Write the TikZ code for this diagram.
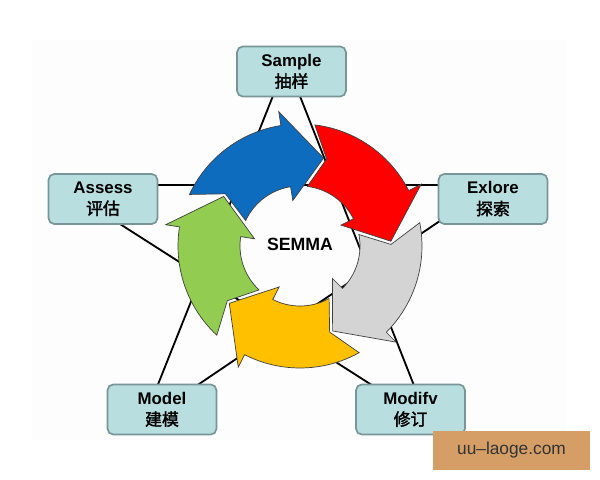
\documentclass[tikz,border=0pt]{standalone}
\usepackage{fontspec}
\setmainfont{Liberation Sans}
\newfontfamily\cjk{Noto Sans CJK SC}[AutoFakeBold=2]
\usetikzlibrary{positioning}

\definecolor{boxfill}{RGB}{184,222,224}
\definecolor{boxline}{RGB}{120,150,152}
\definecolor{arBlue}{RGB}{14,108,190}
\definecolor{arRed}{RGB}{255,0,0}
\definecolor{arGray}{RGB}{212,212,212}
\definecolor{arYellow}{RGB}{255,192,0}
\definecolor{arGreen}{RGB}{146,204,80}
\definecolor{wmfill}{RGB}{212,158,102}
\definecolor{bgfaint}{RGB}{254,253,254}

\begin{document}
\begin{tikzpicture}[
  x=0.025cm, y=-0.025cm,
  font=\bfseries\fontsize{12}{15}\selectfont,
  box/.style={draw=boxline, fill=boxfill, rounded corners=4pt, line width=1.2pt, minimum width=2.72cm, minimum height=1.25cm, align=center, inner sep=2pt},
  starline/.style={line width=1.3pt, black},
  ring/.style={draw=black!75, line width=0.5pt},
  wmbox/.style={fill=wmfill, minimum width=3.92cm, minimum height=0.98cm, inner sep=0pt, font=\fontsize{12.3}{14}\selectfont, text=black!80}
]
\useasboundingbox (0,0) rectangle (600,480);
\fill[bgfaint] (32,40) rectangle (567,440);

% star corners
\coordinate (vtop) at (286.5,62);
\coordinate (vleft) at (59,185);
\coordinate (vright) at (493,185);
\coordinate (vbl) at (143,422);
\coordinate (vbr) at (428,421);

\draw[starline] (vtop) -- (vbl) -- (vright) -- (vleft) -- (vbr) -- cycle;

% cycle of arrows
\begin{scope}[shift={(300,246)}]
\foreach \a/\c in {205/arBlue, 277/arRed, 349/arGray, 61/arYellow, 133/arGreen} {
  \filldraw[ring, fill=\c] (\a:122) -- plot[domain=\a:\a+56, samples=25] (\x:122)
    -- (\a+56:136) -- (\a+80:91) -- (\a+56:46)
    -- plot[domain=\a+56:\a, samples=25] (\x:60) -- (\a+10:91) -- cycle;
}
\end{scope}
\node[font=\bfseries\fontsize{12.6}{15}\selectfont] (semma) at (300,244) {SEMMA};

\node[box] (sample) at (291.5,71.5) {Sample\\{\cjk 抽样}};
\node[box] (explore) at (493,199) {Exlore\\{\cjk 探索}};
\node[box] (modify) at (410.5,409.5) {Modifv\\{\cjk 修订}};
\node[box] (model) at (162,409.5) {Model\\{\cjk 建模}};
\node[box] (assess) at (103,199) {Assess\\{\cjk 评估}};

\node[wmbox] (mark1) at (511.5,450.5) {uu–laoge.com};
\end{tikzpicture}
\end{document}
